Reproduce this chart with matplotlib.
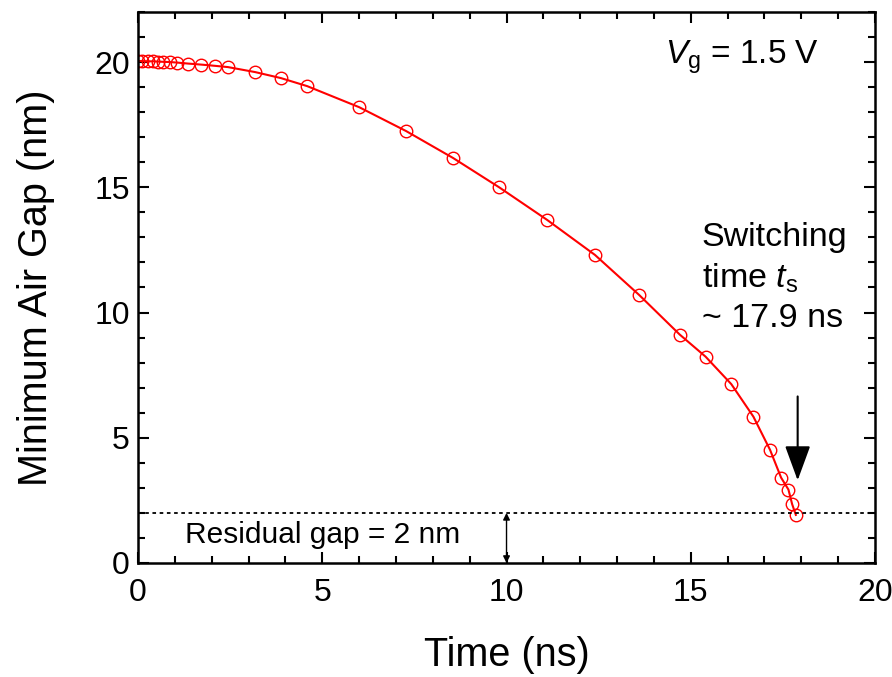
import numpy as np
import matplotlib
matplotlib.use('Agg')
import matplotlib.pyplot as plt
from matplotlib.ticker import MultipleLocator

plt.rcParams['font.family'] = ['Liberation Sans', 'DejaVu Sans']
plt.rcParams['mathtext.fontset'] = 'custom'
plt.rcParams['mathtext.rm'] = 'Liberation Sans'
plt.rcParams['mathtext.it'] = 'Liberation Sans:italic'

# tiempo (ns) y gap minimo (nm)
time_ns = [0.0, 0.11, 0.27, 0.41, 0.54, 0.68, 0.87, 1.06, 1.36, 1.71, 2.09, 2.44,
           3.18, 3.88, 4.59, 6.0, 7.27, 8.55, 9.8, 11.1, 12.4, 13.6, 14.7, 15.4,
           16.1, 16.7, 17.15, 17.45, 17.65, 17.75, 17.85]
gap_nm = [20.04, 20.04, 20.03, 20.03, 20.02, 20.01, 20.0, 19.98, 19.94, 19.9, 19.85, 19.8,
          19.6, 19.36, 19.04, 18.2, 17.25, 16.17, 15.0, 13.7, 12.3, 10.7, 9.12, 8.24,
          7.14, 5.84, 4.52, 3.41, 2.93, 2.35, 1.92]
residual_gap = 2.0
t_switch = 17.9

fig = plt.figure(figsize=(8.92, 6.77), dpi=100)
ax = fig.add_axes([0.1547, 0.1684, 0.8263, 0.8139])

ax.plot(time_ns, gap_nm, '-', color='red', lw=1.5)
ax.plot(time_ns, gap_nm, 'o', mfc='none', mec='red', ms=9, mew=1)

ax.axhline(residual_gap, color='black', ls=(0, (2, 2)), lw=1.3)
ax.annotate('', xy=(10, 0), xytext=(10, residual_gap),
            arrowprops=dict(arrowstyle='<|-|>', color='black', lw=1,
                            mutation_scale=10, shrinkA=0, shrinkB=0))
ax.annotate('', xy=(t_switch, 3.3), xytext=(t_switch, 6.65),
            arrowprops=dict(arrowstyle='-|>,head_length=0.6,head_width=0.22',
                            color='black', lw=1.5, mutation_scale=36,
                            shrinkA=0, shrinkB=0))

ax.text(1.28, 1.12, 'Residual gap = 2 nm', fontsize=21.5, va='center', ha='left')
ax.text(14.3, 20.2, r'$V_{\mathrm{g}}$ = 1.5 V', fontsize=24, va='center', ha='left')
ax.text(15.3, 13.6, 'Switching\ntime $t_{\\mathrm{s}}$\n~ 17.9 ns', fontsize=24.5,
        va='top', ha='left', linespacing=1.32)

ax.set_xlim(0, 20)
ax.set_ylim(0, 22)
ax.xaxis.set_major_locator(MultipleLocator(5))
ax.xaxis.set_minor_locator(MultipleLocator(1))
ax.yaxis.set_major_locator(MultipleLocator(5))
ax.yaxis.set_minor_locator(MultipleLocator(1))
ax.tick_params(which='both', direction='in', top=True, right=True, width=1.5)
ax.tick_params(which='major', length=8, labelsize=23)
ax.tick_params(axis='x', which='major', pad=11)
ax.tick_params(axis='y', which='major', pad=6)
ax.tick_params(which='minor', length=5)
for s in ax.spines.values():
    s.set_linewidth(1.8)

ax.set_xlabel('Time (ns)', fontsize=28.5, labelpad=20)
ax.set_ylabel('Minimum Air Gap (nm)', fontsize=28.5, labelpad=28)

fig.savefig('out.png', dpi=100)
